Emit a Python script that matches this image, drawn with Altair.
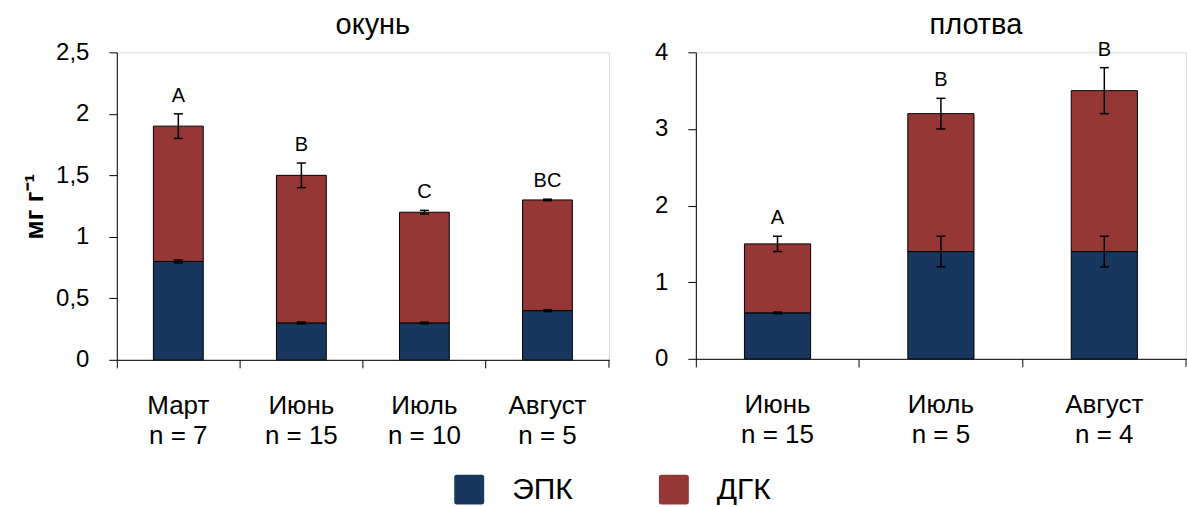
import altair as alt
import pandas as pd

FONT = "Liberation Sans"
ACIDS = ["ЭПК", "ДГК"]
COLORS = ["#17375E", "#953735"]

# окунь (perch)
perch_months = ["Март", "Июнь", "Июль", "Август"]
perch_n = [7, 15, 10, 5]
perch_epa = [0.8, 0.3, 0.3, 0.4]
perch_epa_err = [0.012, 0.007, 0.007, 0.008]
perch_dha = [1.1, 1.2, 0.9, 0.9]
perch_total_err = [0.1, 0.1, 0.015, 0.006]
perch_letters = ["A", "B", "C", "BC"]

# плотва (roach)
roach_months = ["Июнь", "Июль", "Август"]
roach_n = [15, 5, 4]
roach_epa = [0.6, 1.4, 1.4]
roach_epa_err = [0.01, 0.2, 0.2]
roach_dha = [0.9, 1.8, 2.1]
roach_total_err = [0.1, 0.2, 0.3]
roach_letters = ["A", "B", "B"]

# square with slightly rounded corners for the legend swatches
ROUNDED_SQUARE = (
    "M-0.85,-1H0.85A0.15,0.15 0 0 1 1,-0.85V0.85A0.15,0.15 0 0 1 0.85,1"
    "H-0.85A0.15,0.15 0 0 1 -1,0.85V-0.85A0.15,0.15 0 0 1 -0.85,-1Z"
)


def panel(months, n, epa, epa_err, dha, total_err, letters, title,
          ymax, ticks, width, height, title_dx, ytitle, label_expr):
    cats = [f"{m}\nn = {k}" for m, k in zip(months, n)]

    seg_rows, err_rows, let_rows = [], [], []
    for c, e, ee, d, te, lt in zip(cats, epa, epa_err, dha, total_err, letters):
        top = e + d
        seg_rows.append({"cat": c, "acid": "ЭПК", "lo": 0.0, "hi": e})
        seg_rows.append({"cat": c, "acid": "ДГК", "lo": e, "hi": top})
        err_rows.append({"cat": c, "lo": e - ee, "hi": e + ee})
        err_rows.append({"cat": c, "lo": top - te, "hi": top + te})
        let_rows.append({"cat": c, "y": top + te, "letter": lt})

    seg = pd.DataFrame(seg_rows)
    err = pd.DataFrame(err_rows)
    let = pd.DataFrame(let_rows)

    x = alt.X(
        "cat:N", sort=cats, title=None,
        scale=alt.Scale(paddingInner=0, paddingOuter=0),
        axis=alt.Axis(
            labelExpr="split(datum.label, '\\n')",
            labelAngle=0, labelFontSize=26, labelFont=FONT,
            labelColor="black", labelLineHeight=30, labelPadding=25,
            labelBaseline="top",
            bandPosition=0, tickSize=8, tickColor="black",
            domainColor="black", ticks=True, grid=False,
        ),
    )
    yscale = alt.Scale(domain=[0, ymax], nice=False)
    yaxis = alt.Axis(
        values=ticks, labelExpr=label_expr, labelFontSize=24,
        labelFont=FONT, labelColor="black", labelPadding=20,
        tickSize=8, tickColor="black", domainColor="black", grid=False,
        title=ytitle if ytitle else None,
        titleFont=FONT, titleFontSize=26, titleFontWeight="bold",
        titleColor="black", titlePadding=8,
    )

    bars = alt.Chart(seg).mark_bar(
        width=alt.RelativeBandSize(0.405), stroke="black", strokeWidth=1
    ).encode(
        x=x,
        y=alt.Y("lo:Q", scale=yscale, axis=yaxis),
        y2="hi:Q",
        color=alt.Color(
            "acid:N",
            scale=alt.Scale(domain=ACIDS, range=COLORS),
            legend=alt.Legend(
                title=None, orient="none", direction="horizontal",
                legendX=338, legendY=423, padding=0,
                symbolType=ROUNDED_SQUARE, symbolSize=900,
                symbolStrokeWidth=0, symbolOpacity=1,
                labelFontSize=30, labelFont=FONT, labelColor="black",
                labelOffset=28, columnPadding=86,
            ),
        ),
        order=alt.Order("lo:Q"),
    )

    stems = alt.Chart(err).mark_rule(color="black", strokeWidth=1.5).encode(
        x=alt.X("cat:N", sort=cats), y="lo:Q", y2="hi:Q"
    )
    caps_lo = alt.Chart(err).mark_tick(
        color="black", size=9, thickness=1.5, opacity=1
    ).encode(x=alt.X("cat:N", sort=cats), y="lo:Q")
    caps_hi = alt.Chart(err).mark_tick(
        color="black", size=9, thickness=1.5, opacity=1
    ).encode(x=alt.X("cat:N", sort=cats), y="hi:Q")

    letters_layer = alt.Chart(let).mark_text(
        baseline="bottom", dy=-8, fontSize=20, font=FONT, color="black"
    ).encode(x=alt.X("cat:N", sort=cats), y="y:Q", text="letter:N")

    # closing tick at the right end of the category axis
    end_tick = alt.Chart(let.head(1)).mark_rule(
        color="black", strokeWidth=1
    ).encode(
        x=alt.value(width), y=alt.value(height), y2=alt.value(height + 8)
    )

    return alt.layer(
        bars, stems, caps_lo, caps_hi, letters_layer, end_tick
    ).properties(
        width=width, height=height,
        title=alt.TitleParams(
            title, fontSize=29, font=FONT, fontWeight="normal",
            color="black", dx=title_dx, offset=0, anchor="middle",
        ),
    )


left = panel(
    perch_months, perch_n, perch_epa, perch_epa_err, perch_dha,
    perch_total_err, perch_letters, "окунь",
    2.5, [0, 0.5, 1, 1.5, 2, 2.5], 493, 308, 10, "мг г⁻¹",
    "replace(toString(datum.value), '.', ',')",
)
right = panel(
    roach_months, roach_n, roach_epa, roach_epa_err, roach_dha,
    roach_total_err, roach_letters, "плотва",
    4, [0, 1, 2, 3, 4], 491, 307, 35, "",
    "toString(datum.value)",
)

chart = alt.hconcat(left, right, spacing=44).resolve_scale(
    y="independent", x="independent"
).configure_view(stroke=None).configure(
    padding={"left": 21, "top": 9, "right": 0, "bottom": 0}
)

chart.save("out.html", embed_options={"renderer": "svg", "actions": False})
